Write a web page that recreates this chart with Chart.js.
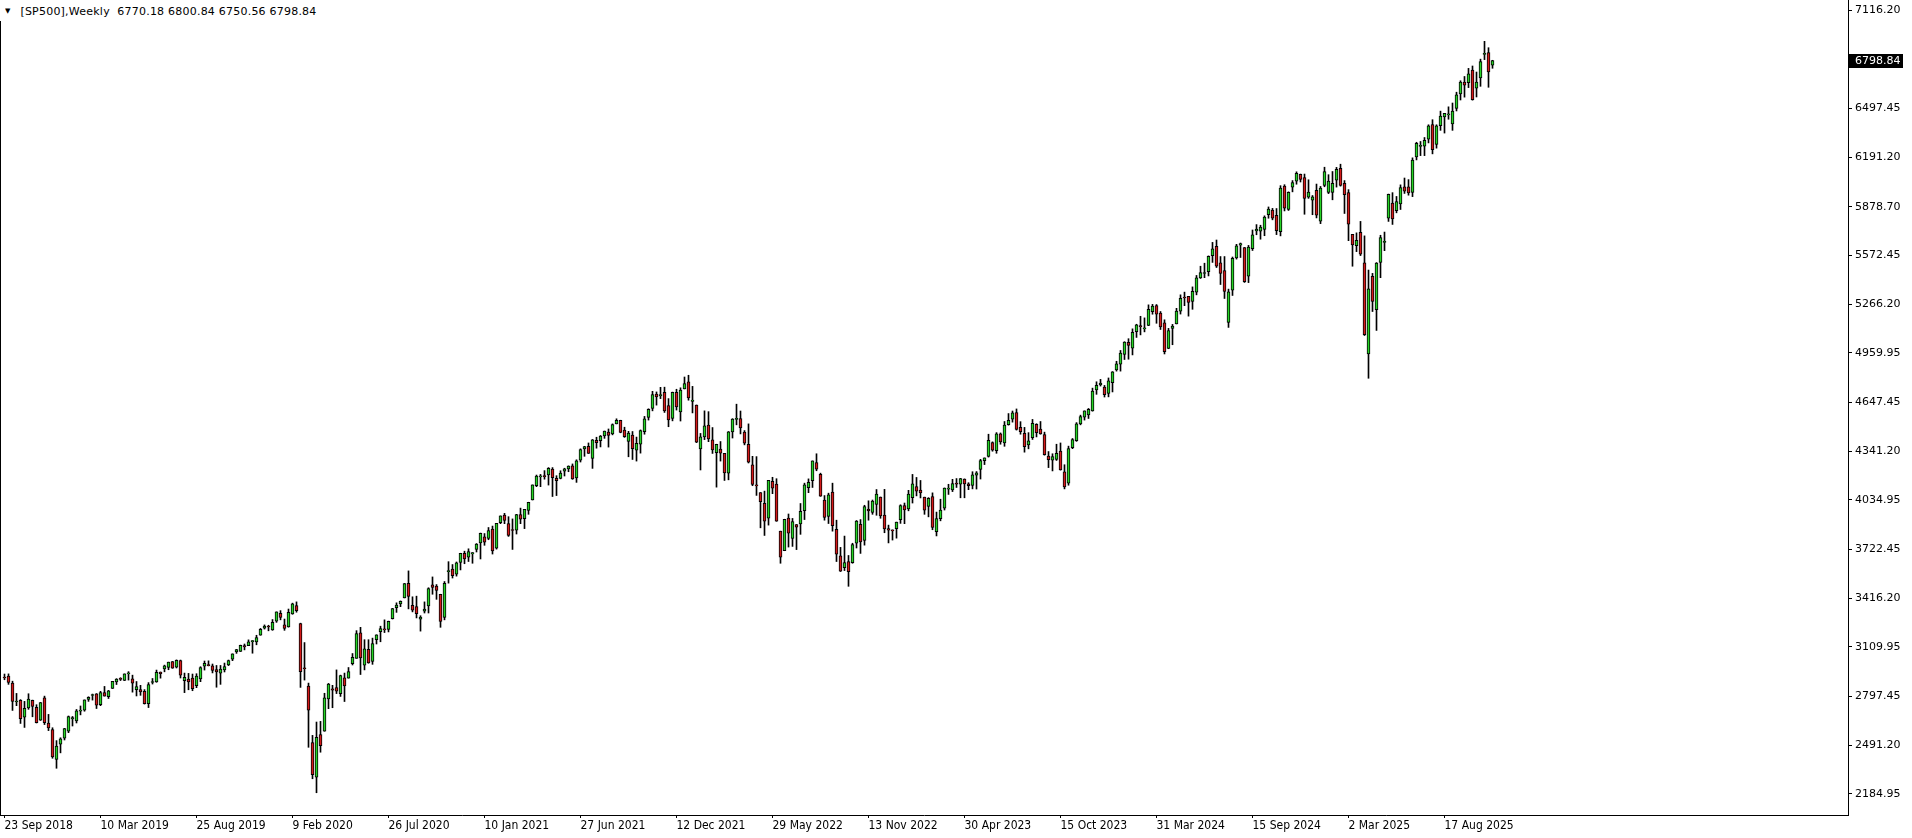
<!DOCTYPE html>
<html>
<head>
<meta charset="utf-8">
<title>[SP500],Weekly</title>
<script src="https://cdn.jsdelivr.net/npm/chart.js@4.4.0/dist/chart.umd.min.js"></script>
<style>
  html, body { margin: 0; padding: 0; background: #fff; overflow: hidden; }
  #wrap { position: relative; width: 1912px; height: 838px; }
  #title {
    position: absolute; left: 5px; top: 5px;
    font: 11px "DejaVu Sans", sans-serif; letter-spacing: 0.22px;
    color: #000; white-space: pre; background: #fff; padding-right: 2px;
  }
  #title .arrow { font-size: 7px; letter-spacing: 0; vertical-align: 2px; margin-right: 10px; }
</style>
</head>
<body>
<div id="wrap">
  <canvas id="sp500Chart" width="1912" height="838"></canvas>
  <div id="title"><span class="arrow">&#9660;</span>[SP500],Weekly  6770.18 6800.84 6750.56 6798.84</div>
</div>
<script>
// weekly candles, first bar = week of 23 Sep 2018
const openPrices = [
  2919,2926,2882,2763,2773,2667,2726,2773,2730,2649,
  2790,2630,2590,2401,2498,2535,2580,2657,2644,2706,
  2712,2780,2804,2814,2747,2823,2797,2848,2889,2908,
  2899,2940,2909,2841,2841,2830,2752,2886,2889,2951,
  2971,2980,3017,2982,3024,2898,2907,2913,2866,2909,
  2988,2997,2991,2967,2944,2965,2996,3032,3078,3081,
  3118,3118,3143,3141,3183,3227,3240,3217,3271,3321,
  3248,3235,3318,3370,3257,2974,2863,2508,2290,2558,
  2579,2782,2846,2854,2815,2915,2913,3004,3038,3199,
  2994,3095,3018,3155,3205,3224,3219,3288,3356,3380,
  3418,3509,3371,3363,3285,3334,3367,3500,3493,3441,
  3296,3583,3600,3567,3641,3698,3675,3694,3723,3764,
  3803,3793,3851,3731,3892,3939,3885,3843,3844,3942,
  3916,3969,4034,4125,4180,4185,4192,4228,4170,4170,
  4216,4229,4249,4173,4285,4356,4372,4296,4409,4407,
  4437,4461,4450,4513,4535,4474,4402,4442,4348,4386,
  4464,4553,4610,4701,4689,4712,4628,4548,4711,4588,
  4733,4778,4655,4632,4356,4431,4505,4413,4332,4354,
  4327,4203,4462,4541,4547,4462,4385,4255,4130,4081,
  4013,3920,4151,4134,3838,3715,3920,3792,3880,3883,
  3967,4112,4155,4270,4195,4034,3930,4084,3849,3682,
  3609,3646,3640,3763,3881,3780,3977,3956,4006,4053,
  3939,3854,3843,3853,3910,3999,3978,4049,4119,4096,
  4052,3993,4055,3835,3917,3982,4102,4098,4140,4134,
  4166,4136,4126,4190,4226,4282,4308,4396,4344,4450,
  4394,4508,4543,4584,4492,4454,4380,4426,4510,4480,
  4446,4311,4284,4289,4342,4211,4140,4364,4407,4512,
  4555,4569,4594,4726,4758,4745,4704,4772,4853,4888,
  4950,5026,4989,5093,5131,5111,5133,5219,5257,5211,
  5149,4988,5114,5142,5222,5306,5315,5283,5342,5431,
  5459,5471,5572,5631,5527,5477,5152,5354,5557,5637,
  5623,5442,5615,5727,5726,5737,5830,5859,5825,5723,
  6009,5862,6002,6040,6083,6063,5940,5920,5982,5788,
  6014,5970,5969,6046,6121,6026,5968,5705,5635,5718,
  5527,4953,5441,5232,5529,5655,5808,5902,5855,5897,
  6005,6004,5970,6193,6259,6260,6304,6397,6271,6389,
  6445,6457,6401,6498,6589,6664,6660,6740,6625,6690,
  6838,6850,6770.18
];
const highPrices = [
  2939,2940,2894,2817,2778,2767,2815,2775,2746,2760,
  2800,2685,2601,2520,2538,2597,2675,2672,2716,2738,
  2776,2796,2813,2816,2830,2861,2836,2893,2910,2916,
  2940,2954,2932,2892,2868,2841,2885,2911,2964,2952,
  2995,3014,3018,3028,3027,2945,2943,2939,2941,2985,
  3021,3022,3002,2993,2993,3008,3027,3066,3094,3121,
  3128,3154,3150,3183,3226,3248,3246,3282,3330,3338,
  3285,3348,3385,3393,3259,3137,2882,2553,2637,2641,
  2818,2880,2868,2965,2932,2945,2980,3068,3212,3233,
  3155,3155,3165,3186,3240,3280,3272,3352,3387,3399,
  3509,3588,3425,3429,3306,3393,3482,3550,3502,3441,
  3521,3646,3628,3644,3699,3712,3727,3703,3760,3826,
  3823,3861,3870,3887,3934,3950,3929,3915,3944,3983,
  3975,4020,4129,4191,4195,4219,4238,4238,4187,4218,
  4234,4249,4261,4287,4356,4372,4393,4415,4429,4440,
  4468,4481,4513,4545,4536,4492,4466,4465,4430,4475,
  4560,4608,4718,4714,4743,4744,4672,4713,4731,4740,
  4808,4819,4749,4632,4453,4595,4590,4490,4385,4402,
  4327,4465,4546,4637,4594,4471,4513,4309,4307,4081,
  4090,4158,4177,4168,3838,3913,3946,3918,3880,4012,
  4140,4167,4280,4325,4203,4062,4077,4140,3907,3736,
  3807,3685,3762,3905,3911,4001,4029,4034,4100,4053,
  4101,3876,3846,3895,4004,4015,4095,4195,4176,4157,
  4052,4049,4079,3958,4039,4110,4133,4164,4169,4170,
  4167,4143,4212,4213,4290,4299,4448,4400,4458,4456,
  4528,4578,4594,4607,4527,4491,4458,4541,4514,4528,
  4461,4339,4325,4385,4393,4256,4373,4421,4521,4568,
  4595,4610,4738,4778,4793,4755,4802,4842,4907,4975,
  5030,5049,5111,5140,5190,5180,5262,5265,5264,5220,
  5168,5114,5139,5240,5325,5342,5315,5375,5447,5505,
  5524,5570,5655,5670,5566,5566,5361,5563,5643,5651,
  5623,5636,5733,5767,5763,5822,5878,5869,5868,6012,
  6018,5973,6044,6099,6085,6085,6049,5950,6022,6007,
  6128,6081,6101,6127,6147,6044,5987,5705,5715,5787,
  5696,5481,5460,5528,5700,5720,5959,5968,5944,6017,
  6060,6050,6187,6285,6290,6315,6395,6427,6395,6481,
  6467,6508,6532,6600,6672,6699,6750,6765,6727,6808,
  6920,6880,6800.84
];
const lowPrices = [
  2903,2874,2710,2740,2628,2603,2717,2670,2631,2647,
  2621,2583,2409,2346,2443,2524,2570,2612,2631,2682,
  2705,2767,2775,2722,2740,2800,2785,2848,2873,2898,
  2898,2901,2825,2801,2805,2750,2728,2876,2887,2913,
  2953,2966,2975,2977,2914,2822,2840,2834,2853,2891,
  2964,2990,2946,2856,2874,2952,2992,3023,3069,3081,
  3091,3118,3070,3123,3183,3222,3211,3214,3264,3280,
  3214,3234,3315,3328,2855,2901,2478,2280,2192,2447,
  2579,2721,2727,2816,2798,2766,2913,2996,3038,2936,
  2965,3007,3000,3128,3142,3200,3204,3285,3327,3363,
  3418,3349,3330,3292,3209,3323,3323,3441,3409,3233,
  3280,3511,3543,3555,3594,3633,3647,3636,3707,3663,
  3749,3784,3694,3725,3885,3885,3805,3723,3820,3885,
  3854,3944,4034,4118,4118,4165,4128,4056,4062,4167,
  4185,4212,4164,4145,4273,4309,4327,4233,4360,4368,
  4422,4367,4444,4513,4457,4428,4306,4289,4279,4329,
  4448,4537,4595,4631,4672,4585,4495,4532,4600,4531,
  4733,4662,4582,4395,4223,4414,4401,4327,4115,4279,
  4157,4161,4424,4507,4450,4381,4267,4124,4063,3859,
  3811,3876,4074,3900,3636,3715,3738,3742,3722,3818,
  3911,4080,4113,4218,4057,3907,3886,3838,3647,3584,
  3590,3491,3636,3732,3698,3750,3907,3944,3938,3919,
  3828,3764,3782,3794,3887,3885,3966,4015,4060,4047,
  3944,3928,3847,3808,3903,3971,4069,4087,4113,4048,
  4048,4099,4104,4103,4166,4257,4304,4341,4328,4385,
  4372,4505,4524,4474,4448,4335,4356,4415,4431,4448,
  4316,4238,4217,4283,4222,4104,4127,4357,4403,4507,
  4537,4547,4593,4699,4751,4682,4683,4714,4845,4845,
  4918,4920,4947,5057,5073,5092,5131,5203,5146,5107,
  4953,4986,5011,5142,5204,5257,5191,5234,5325,5428,
  5433,5444,5529,5497,5390,5302,5120,5321,5550,5560,
  5403,5402,5604,5703,5675,5697,5807,5797,5704,5696,
  5853,5856,5973,6021,6035,5832,5932,5829,5809,5773,
  6005,5962,5923,6003,6009,5837,5666,5505,5597,5572,
  5069,4800,5220,5101,5433,5603,5787,5768,5841,5862,
  5963,5952,5943,6174,6201,6201,6281,6212,6248,6360,
  6343,6430,6360,6482,6551,6569,6629,6550,6570,6637,
  6805,6631,6750.56
];
const closePrices = [
  2914,2886,2767,2768,2658,2723,2781,2736,2633,2760,
  2633,2600,2417,2486,2532,2596,2671,2665,2707,2708,
  2776,2793,2804,2743,2822,2800,2834,2893,2907,2905,
  2940,2946,2881,2860,2826,2752,2873,2887,2950,2942,
  2990,3014,2976,3026,2932,2919,2889,2847,2926,2979,
  3007,2992,2962,2952,2970,2986,3023,3066,3093,3120,
  3110,3141,3146,3169,3221,3240,3235,3265,3330,3295,
  3226,3328,3380,3338,2954,2972,2711,2305,2541,2489,
  2790,2875,2837,2831,2930,2864,2955,3044,3194,3041,
  3098,3009,3130,3185,3225,3216,3271,3351,3373,3397,
  3508,3427,3341,3319,3298,3348,3477,3484,3465,3270,
  3510,3585,3558,3638,3699,3663,3709,3703,3756,3825,
  3768,3841,3714,3887,3934,3906,3811,3842,3943,3913,
  3975,4020,4129,4185,4180,4181,4233,4174,4156,4204,
  4230,4247,4166,4281,4352,4370,4327,4412,4395,4437,
  4468,4441,4509,4535,4459,4433,4455,4357,4391,4471,
  4545,4605,4697,4683,4698,4595,4538,4712,4620,4726,
  4766,4677,4663,4398,4432,4501,4419,4349,4385,4329,
  4204,4463,4543,4546,4488,4392,4272,4132,4123,4024,
  3901,4158,4109,3901,3675,3912,3825,3899,3863,3962,
  4130,4145,4280,4228,4058,3924,4067,3873,3693,3586,
  3640,3583,3753,3901,3771,3993,3965,4027,4072,3934,
  3852,3845,3840,3895,3999,3972,4071,4136,4090,4079,
  3970,4045,3861,3917,3971,4109,4105,4137,4133,4169,
  4136,4124,4192,4205,4282,4299,4410,4348,4450,4399,
  4505,4536,4582,4478,4464,4370,4406,4516,4457,4450,
  4320,4288,4308,4327,4224,4117,4358,4415,4514,4559,
  4595,4604,4719,4755,4770,4697,4784,4840,4891,4959,
  5027,5006,5089,5137,5124,5117,5234,5254,5204,5123,
  4967,5100,5128,5223,5303,5305,5278,5347,5432,5465,
  5460,5567,5615,5505,5459,5347,5344,5554,5634,5648,
  5408,5626,5703,5738,5751,5815,5865,5808,5729,5996,
  5871,5970,6032,6090,6051,5931,5971,5942,5827,5997,
  6101,6041,6026,6115,6013,5955,5770,5639,5668,5581,
  5074,5363,5283,5525,5686,5660,5958,5803,5912,6000,
  5977,5967,6173,6279,6260,6297,6389,6238,6389,6450,
  6467,6460,6482,6584,6664,6644,6716,6553,6664,6792,
  6840,6728,6798.84
];

// date labels under the time axis, one every 24 weeks
const tickLabels = [
  '23 Sep 2018', '10 Mar 2019', '25 Aug 2019', '9 Feb 2020', '26 Jul 2020',
  '10 Jan 2021', '27 Jun 2021', '12 Dec 2021', '29 May 2022', '13 Nov 2022',
  '30 Apr 2023', '15 Oct 2023', '31 Mar 2024', '15 Sep 2024', '2 Mar 2025',
  '17 Aug 2025'
];
const priceTicks = [
  2184.95, 2491.20, 2797.45, 3109.95, 3416.20, 3722.45, 4034.95, 4341.20,
  4647.45, 4959.95, 5266.20, 5572.45, 5878.70, 6191.20, 6497.45, 7116.20
];

const BULL = '#26d426';
const BEAR = '#d41a1a';
const lastClose = closePrices[closePrices.length - 1];

const wickData = highPrices.map((h, i) => ({ x: i, y: [lowPrices[i], h] }));
const bodyData = openPrices.map((o, i) => ({ x: i, y: [o, closePrices[i]] }));
const bodyColors = openPrices.map((o, i) => closePrices[i] >= o ? BULL : BEAR);

// left frame line and the black current price box on the price scale
const framePlugin = {
  id: 'frame',
  afterDraw(chart) {
    const ctx = chart.ctx;
    const area = chart.chartArea;
    const yScale = chart.scales.y;
    ctx.save();
    ctx.strokeStyle = '#000';
    ctx.lineWidth = 1;
    ctx.beginPath();
    ctx.moveTo(0.5, 21);
    ctx.lineTo(0.5, area.bottom);
    ctx.stroke();

    const y = Math.round(yScale.getPixelForValue(lastClose));
    ctx.fillStyle = '#000';
    ctx.fillRect(area.right + 1, y - 7, 54, 14);
    ctx.fillStyle = '#fff';
    ctx.font = '11px "DejaVu Sans", sans-serif';
    ctx.textBaseline = 'middle';
    ctx.fillText(lastClose.toFixed(2), area.right + 7, y + 0.5);
    ctx.restore();
  }
};

const ctx = document.getElementById('sp500Chart').getContext('2d');
const sp500Chart = new Chart(ctx, {
  type: 'bar',
  data: {
    datasets: [
      {
        label: 'wicks',
        data: wickData,
        backgroundColor: '#000',
        borderWidth: 0,
        barThickness: 1,
        grouped: false,
        order: 2
      },
      {
        label: 'bodies',
        data: bodyData,
        backgroundColor: bodyColors,
        borderColor: '#000',
        borderWidth: 1,
        borderSkipped: false,
        barThickness: 3,
        minBarLength: 1,
        grouped: false,
        order: 1
      }
    ]
  },
  options: {
    responsive: false,
    animation: false,
    events: [],
    layout: { padding: 0, autoPadding: false },
    plugins: {
      legend: { display: false },
      tooltip: { enabled: false }
    },
    scales: {
      x: {
        type: 'linear',
        offset: false,
        min: -1.125,
        max: 460.875,
        afterBuildTicks: scale => {
          scale.ticks = tickLabels.map((_, k) => ({ value: k * 24 }));
        },
        afterFit: scale => {
          scale.height = 23;
          scale.paddingLeft = 0;
          scale.paddingRight = 0;
        },
        ticks: {
          autoSkip: false,
          maxRotation: 0,
          align: 'start',
          padding: 1,
          color: '#000',
          font: { family: '"DejaVu Sans Condensed", "DejaVu Sans", sans-serif', size: 12 },
          callback: (value, index) => tickLabels[index]
        },
        grid: { display: true, offset: false, drawOnChartArea: false, drawTicks: true, tickLength: 3, color: '#000' },
        border: { display: true, color: '#000' }
      },
      y: {
        type: 'linear',
        position: 'right',
        min: 2052,
        max: 7180.2,
        afterBuildTicks: scale => {
          scale.ticks = priceTicks.map(v => ({ value: v }));
        },
        afterFit: scale => {
          scale.width = 64;
          scale.paddingTop = 0;
          scale.paddingBottom = 0;
        },
        ticks: {
          padding: 3,
          color: '#000',
          font: { family: '"DejaVu Sans", sans-serif', size: 11 },
          callback: value => value.toFixed(2)
        },
        grid: { display: true, drawOnChartArea: false, drawTicks: true, tickLength: 4, color: '#000' },
        border: { display: true, color: '#000' }
      }
    }
  },
  plugins: [framePlugin]
});
</script>
</body>
</html>
